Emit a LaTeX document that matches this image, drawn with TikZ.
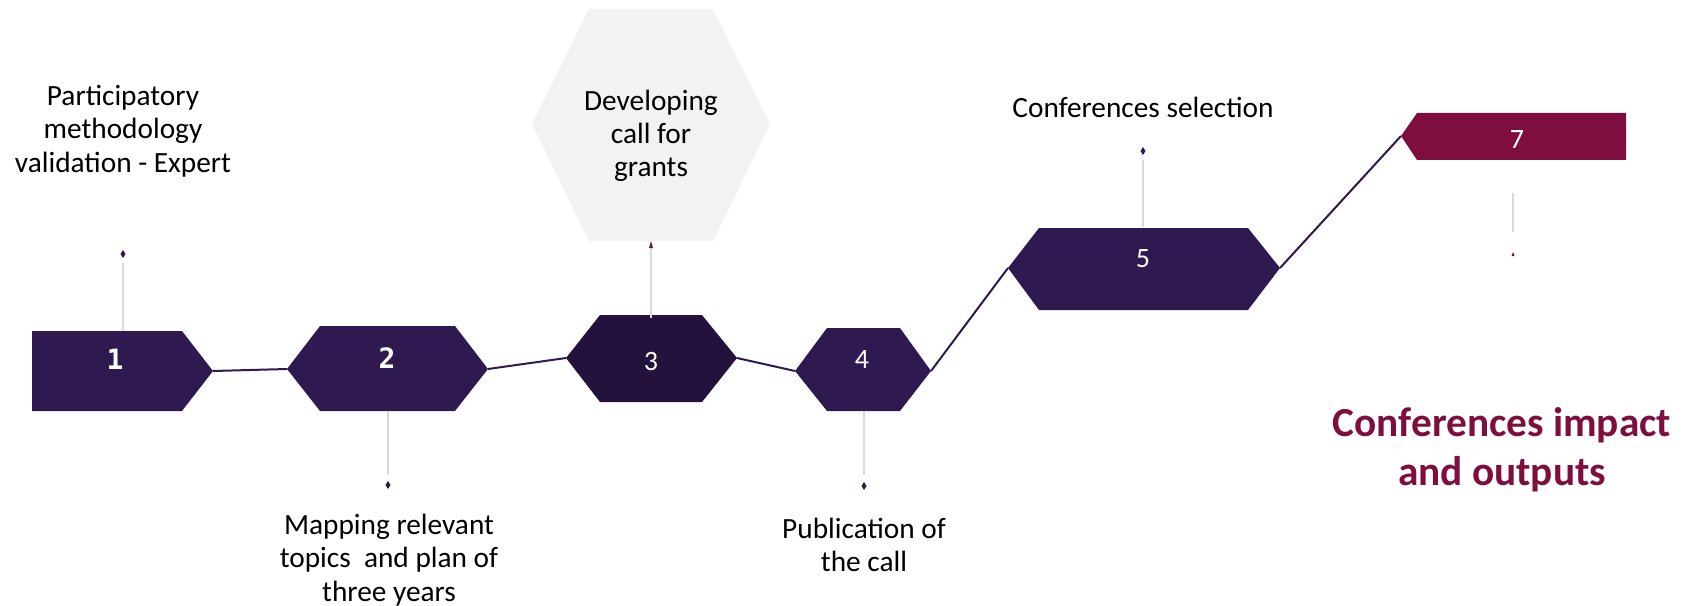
\documentclass[tikz,border=0pt]{standalone}
\usepackage{fontspec}
\setmainfont{Carlito}
\newfontfamily\stepmono{DejaVu Sans Mono}[BoldFont={DejaVu Sans Mono Bold}]
\usepackage{tikz}
\definecolor{PurpleDefault}{RGB}{46,26,80}
\definecolor{PurpleDark}{RGB}{35,18,60}
\definecolor{MaroonDefault}{RGB}{126,14,62}
\definecolor{GreyHex}{RGB}{242,242,242}
\definecolor{GreyLine}{RGB}{217,217,217}

\begin{document}
\begin{tikzpicture}[x=0.75pt,y=0.75pt,yscale=-1,xscale=1]
\path [use as bounding box] (0,0) rectangle (1694,606);

%Shape: Hexagon (grey)
\draw [draw opacity=0][fill={GreyHex}] (532,124) -- (589,9) -- (713,9) -- (770,124) -- (713,241) -- (589,241) -- cycle ;
%Shape: Pentagon 1
\draw [draw opacity=0][fill={PurpleDefault}] (32,331) -- (182,331) -- (213,371) -- (182,411) -- (32,411) -- cycle ;
%Shape: Hexagon 2
\draw [draw opacity=0][fill={PurpleDefault}] (287,369) -- (320,326) -- (455,326) -- (488,369) -- (455,411) -- (320,411) -- cycle ;
%Shape: Hexagon 3
\draw [draw opacity=0][fill={PurpleDark}] (566,358) -- (600,315) -- (702,315) -- (737,358) -- (702,402) -- (600,402) -- cycle ;
%Shape: Hexagon 4
\draw [draw opacity=0][fill={PurpleDefault}] (795,371) -- (827,328) -- (900,328) -- (931,371) -- (900,411) -- (827,411) -- cycle ;
%Shape: Hexagon 5
\draw [draw opacity=0][fill={PurpleDefault}] (1008,268) -- (1039,228) -- (1248,228) -- (1280,268) -- (1248,310) -- (1039,310) -- cycle ;
%Shape: Pentagon 7
\draw [draw opacity=0][fill={MaroonDefault}] (1401,136) -- (1417,113) -- (1626,113) -- (1626,160) -- (1417,160) -- cycle ;

\coordinate (s1r) at (213,371);
\coordinate (s2l) at (287,369);
\coordinate (s2r) at (488,369);
\coordinate (s3l) at (566,358);
\coordinate (s3r) at (737,358);
\coordinate (s4l) at (795,371);
\coordinate (s4r) at (931,371);
\coordinate (s5l) at (1008,268);
\coordinate (s5r) at (1280,268);
\coordinate (s7l) at (1401,136);

%Straight Lines
\draw [color={PurpleDefault}][line width=1.5] (s1r) -- (s2l) ;
\draw [color={PurpleDefault}][line width=1.5] (s2r) -- (s3l) ;
\draw [color={PurpleDefault}][line width=1.5] (s3r) -- (s4l) ;
\draw [color={PurpleDefault}][line width=1.5] (s4r) -- (s5l) ;
\draw [color={PurpleDefault}][line width=1.5] (s5r) -- (s7l) ;

%Callout lines
\coordinate (c1a) at (123,331);  \coordinate (c1b) at (123,263);
\coordinate (c2a) at (388,411);  \coordinate (c2b) at (388,475);
\coordinate (c3a) at (651,318);  \coordinate (c3b) at (651,247);
\coordinate (c4a) at (864,411);  \coordinate (c4b) at (864,475);
\coordinate (c5a) at (1143,227); \coordinate (c5b) at (1143,160);
\coordinate (c7a) at (1513,193); \coordinate (c7b) at (1513,232);
\draw [color={GreyLine}][line width=1.5] (c1a) -- (c1b) ;
\draw [color={GreyLine}][line width=1.5] (c2a) -- (c2b) ;
\draw [color={GreyLine}][line width=1.5] (c3a) -- (c3b) ;
\draw [color={GreyLine}][line width=1.5] (c4a) -- (c4b) ;
\draw [color={GreyLine}][line width=1.5] (c5a) -- (c5b) ;
\draw [color={GreyLine}][line width=1.5] (c7a) -- (c7b) ;
%Shape: Diamond tips
\fill [PurpleDefault] (123,250) -- (125.5,254) -- (123,258) -- (120.5,254) -- cycle ;
\fill [PurpleDefault] (388,481) -- (390.5,485) -- (388,489) -- (385.5,485) -- cycle ;
\fill [PurpleDefault] (864,482) -- (866.5,486) -- (864,490) -- (861.5,486) -- cycle ;
\fill [PurpleDefault] (1143,147) -- (1145.5,151) -- (1143,155) -- (1140.5,151) -- cycle ;
\fill [MaroonDefault] (651,241) -- (653,248) -- (649,248) -- cycle ;
\fill [MaroonDefault] (1513,252) -- (1514.5,256) -- (1511.5,256) -- cycle ;

% Text Node
\draw (115,359) node (num1) [text=white, font={\stepmono\bfseries\fontsize{21}{21}\selectfont}] {1};
% Text Node
\draw (387,358) node (num2) [text=white, font={\stepmono\bfseries\fontsize{21}{21}\selectfont}] {2};
% Text Node
\draw (651,362) node (num3) [text=white, font={\fontsize{21}{21}\selectfont}] {3};
% Text Node
\draw (862,360) node (num4) [text=white, font={\fontsize{21}{21}\selectfont}] {4};
% Text Node
\draw (1143,259) node (num5) [text=white, font={\fontsize{21}{21}\selectfont}] {5};
% Text Node
\draw (1517,140) node (num7) [text=white, font={\fontsize{21}{21}\selectfont}] {7};
% Text Node
\draw (123,131) node (txt1) [align=center, font={\fontsize{22}{25}\selectfont}] {Participatory\\methodology\\validation - Expert};
% Text Node
\draw (389,560) node (txt2) [align=center, font={\fontsize{22}{25}\selectfont}] {Mapping relevant\\topics\ \ and plan of\\three years};
% Text Node
\draw (651,136) node (txt3) [align=center, font={\fontsize{22}{25}\selectfont}] {Developing\\call for\\grants};
% Text Node
\draw (864,545) node (txt4) [align=center, font={\fontsize{22}{25}\selectfont}] {Publication of\\the call};
% Text Node
\draw (1143,107) node (txt5) [align=center, font={\fontsize{22}{25}\selectfont}] {Conferences selection};
% Text Node
\draw (1502,450) node (txt7) [align=center, text={MaroonDefault}, font={\bfseries\fontsize{31}{37}\selectfont}] {Conferences impact\\and outputs};

\end{tikzpicture}
\end{document}
